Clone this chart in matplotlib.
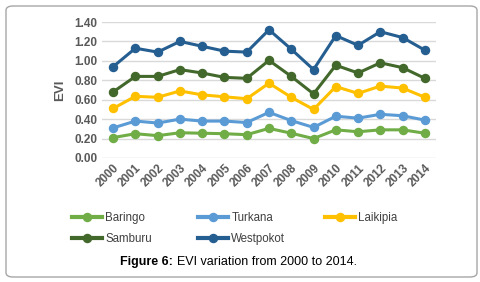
import matplotlib
matplotlib.use("Agg")
import matplotlib.pyplot as plt
from matplotlib.patches import FancyBboxPatch
from matplotlib.lines import Line2D

# data
years = [str(y) for y in range(2000, 2015)]
baringo = [0.21, 0.25, 0.23, 0.26, 0.255, 0.25, 0.24, 0.305, 0.255, 0.20, 0.29, 0.27, 0.29, 0.29, 0.255]
turkana = [0.31, 0.38, 0.36, 0.40, 0.38, 0.38, 0.365, 0.47, 0.385, 0.315, 0.43, 0.41, 0.45, 0.435, 0.39]
laikipia = [0.51, 0.635, 0.625, 0.69, 0.65, 0.63, 0.61, 0.77, 0.625, 0.50, 0.735, 0.665, 0.74, 0.72, 0.625]
samburu = [0.68, 0.84, 0.84, 0.91, 0.875, 0.83, 0.82, 1.005, 0.84, 0.66, 0.955, 0.875, 0.98, 0.93, 0.82]
westpokot = [0.94, 1.13, 1.09, 1.20, 1.15, 1.10, 1.09, 1.32, 1.12, 0.91, 1.26, 1.16, 1.30, 1.24, 1.11]
yticks = [0.0, 0.2, 0.4, 0.6, 0.8, 1.0, 1.2, 1.4]

series = [
    ("Baringo", baringo, "#70AD47"),
    ("Turkana", turkana, "#5B9BD5"),
    ("Laikipia", laikipia, "#FFC000"),
    ("Samburu", samburu, "#43682B"),
    ("Westpokot", westpokot, "#255E91"),
]

W, H = 480, 282
fig = plt.figure(figsize=(W / 100, H / 100), dpi=100)
fig.patch.set_facecolor("white")

# rounded frame round the whole chart
frame = FancyBboxPatch((6 / W, 5 / H), 471 / W, 271 / H,
                       boxstyle="round,pad=0,rounding_size=0.015",
                       transform=fig.transFigure, facecolor="none",
                       edgecolor="#A6A6A6", linewidth=1.0, zorder=-1)
fig.patches.append(frame)

ax = fig.add_axes([102 / W, 1 - 158 / H, 334 / W, 136 / H])
ax.set_facecolor("none")

x = list(range(len(years)))
handles = {}
for name, vals, col in series:
    ln, = ax.plot(x, vals, color=col, lw=2.2, marker="o", ms=5.8, label=name, zorder=3)
    handles[name] = ln

ax.set_xlim(-0.5, len(years) - 0.5)
ax.set_ylim(0, 1.4)
ax.set_yticks(yticks)
ax.set_yticklabels([f"{v:.2f}" for v in yticks])
ax.set_xticks(x)
ax.set_xticklabels(years, rotation=45, ha="right", rotation_mode="anchor")
ax.grid(axis="y", color="#D9D9D9", lw=1.0)
ax.set_axisbelow(True)
for s in ax.spines.values():
    s.set_visible(False)
ax.tick_params(axis="both", length=0, colors="#595959", labelsize=8.5)
ax.tick_params(axis="x", pad=3)
for lab in ax.get_xticklabels() + ax.get_yticklabels():
    lab.set_fontweight("bold")
    lab.set_family("Liberation Sans")
ax.set_ylabel("EVI", fontsize=9.5, fontweight="bold", color="#595959",
              family="Liberation Sans", labelpad=6)

# legend laid out like the original, one column at a time
cols = [(72, ["Baringo", "Samburu"]), (198, ["Turkana", "Westpokot"]), (325, ["Laikipia"])]
for xpos, names in cols:
    hs = [Line2D([], [], color=handles[n].get_color(), lw=3, marker="o", ms=5.8) for n in names]
    fig.legend(hs, names, loc="upper left", bbox_to_anchor=(xpos / W, 1 - 212 / H),
               frameon=False, handlelength=2.6, handletextpad=0.3, borderpad=0,
               borderaxespad=0, labelspacing=0.8,
               prop={"family": "Liberation Sans", "size": 8.3},
               labelcolor="#404040")

fig.text(120 / W, 1 - 262 / H, "Figure 6:", fontsize=9, fontweight="bold",
         family="Liberation Sans", va="center", ha="left")
fig.text(177 / W, 1 - 262 / H, "EVI variation from 2000 to 2014.", fontsize=9,
         family="Liberation Sans", va="center", ha="left")

fig.savefig("out.png", dpi=100, facecolor="white")
